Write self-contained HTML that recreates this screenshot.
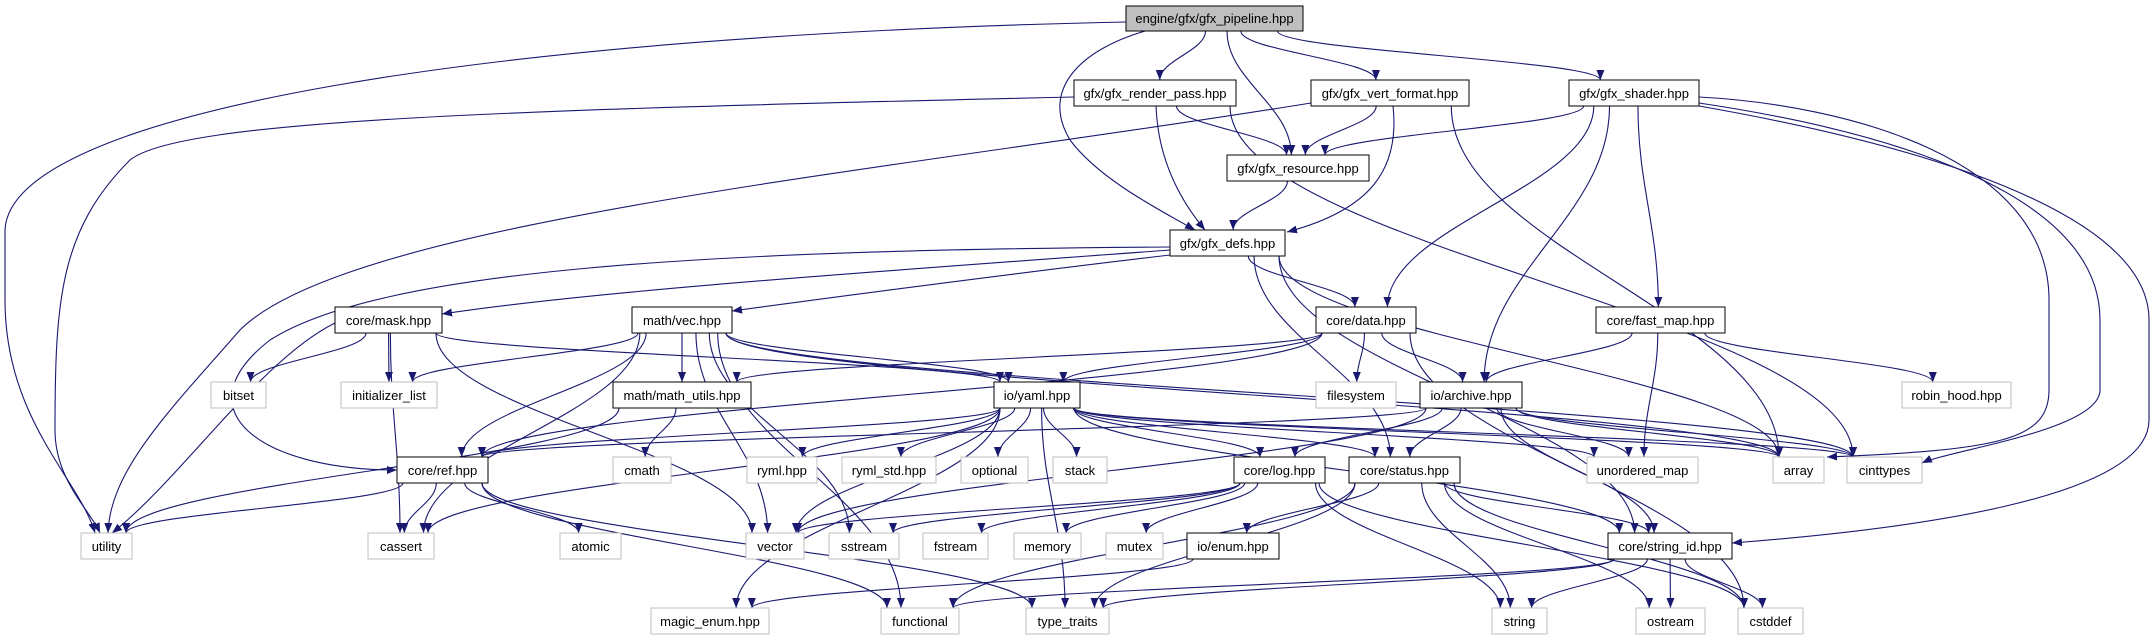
<!DOCTYPE html>
<html><head><meta charset="utf-8"><style>
html,body{margin:0;padding:0;background:#fff;}
svg{display:block;}
text{font-family:"Liberation Sans",sans-serif;font-size:13px;text-anchor:middle;}
</style></head><body>
<svg id="g" width="2156" height="635" viewBox="0 0 2156 635" xmlns="http://www.w3.org/2000/svg">
<defs><marker id="a" markerUnits="userSpaceOnUse" markerWidth="11" markerHeight="9" refX="10" refY="4" orient="auto"><path d="M0,0 L10,4 L0,8 z" fill="#191970"/></marker></defs>
<g id="edges" fill="none" stroke="#191970" stroke-width="1.1"></g>
<g id="nodes">
<rect x="1126" y="6" width="177" height="25" fill="#bfbfbf" stroke="#000"/><text x="1214.5" y="23">engine/gfx/gfx_pipeline.hpp</text>
<rect x="1074" y="80" width="162" height="26" fill="#fff" stroke="#000"/><text x="1155" y="98">gfx/gfx_render_pass.hpp</text>
<rect x="1311" y="80" width="158" height="26" fill="#fff" stroke="#000"/><text x="1390" y="98">gfx/gfx_vert_format.hpp</text>
<rect x="1569" y="80" width="130" height="26" fill="#fff" stroke="#000"/><text x="1634" y="98">gfx/gfx_shader.hpp</text>
<rect x="1227" y="155" width="142" height="26" fill="#fff" stroke="#000"/><text x="1298" y="173">gfx/gfx_resource.hpp</text>
<rect x="1170" y="230" width="115" height="26" fill="#fff" stroke="#000"/><text x="1227.5" y="248">gfx/gfx_defs.hpp</text>
<rect x="335" y="307" width="107" height="26" fill="#fff" stroke="#000"/><text x="388.5" y="325">core/mask.hpp</text>
<rect x="632" y="307" width="100" height="26" fill="#fff" stroke="#000"/><text x="682" y="325">math/vec.hpp</text>
<rect x="1316" y="307" width="100" height="26" fill="#fff" stroke="#000"/><text x="1366" y="325">core/data.hpp</text>
<rect x="1596" y="307" width="129" height="26" fill="#fff" stroke="#000"/><text x="1660.5" y="325">core/fast_map.hpp</text>
<rect x="211" y="382" width="55" height="26" fill="#fff" stroke="#bfbfbf"/><text x="238.5" y="400">bitset</text>
<rect x="341" y="382" width="96" height="26" fill="#fff" stroke="#bfbfbf"/><text x="389" y="400">initializer_list</text>
<rect x="613" y="382" width="138" height="26" fill="#fff" stroke="#000"/><text x="682" y="400">math/math_utils.hpp</text>
<rect x="994" y="382" width="86" height="26" fill="#fff" stroke="#000"/><text x="1037" y="400">io/yaml.hpp</text>
<rect x="1316" y="382" width="80" height="26" fill="#fff" stroke="#bfbfbf"/><text x="1356" y="400">filesystem</text>
<rect x="1420" y="382" width="102" height="26" fill="#fff" stroke="#000"/><text x="1471" y="400">io/archive.hpp</text>
<rect x="1902" y="382" width="109" height="26" fill="#fff" stroke="#bfbfbf"/><text x="1956.5" y="400">robin_hood.hpp</text>
<rect x="397" y="457" width="91" height="26" fill="#fff" stroke="#000"/><text x="442.5" y="475">core/ref.hpp</text>
<rect x="613" y="457" width="58" height="26" fill="#fff" stroke="#bfbfbf"/><text x="642" y="475">cmath</text>
<rect x="747" y="457" width="70" height="26" fill="#fff" stroke="#bfbfbf"/><text x="782" y="475">ryml.hpp</text>
<rect x="842" y="457" width="94" height="26" fill="#fff" stroke="#bfbfbf"/><text x="889" y="475">ryml_std.hpp</text>
<rect x="961" y="457" width="67" height="26" fill="#fff" stroke="#bfbfbf"/><text x="994.5" y="475">optional</text>
<rect x="1053" y="457" width="54" height="26" fill="#fff" stroke="#bfbfbf"/><text x="1080" y="475">stack</text>
<rect x="1234" y="457" width="91" height="26" fill="#fff" stroke="#000"/><text x="1279.5" y="475">core/log.hpp</text>
<rect x="1349" y="457" width="111" height="26" fill="#fff" stroke="#000"/><text x="1404.5" y="475">core/status.hpp</text>
<rect x="1587" y="457" width="111" height="26" fill="#fff" stroke="#bfbfbf"/><text x="1642.5" y="475">unordered_map</text>
<rect x="1773" y="457" width="51" height="26" fill="#fff" stroke="#bfbfbf"/><text x="1798.5" y="475">array</text>
<rect x="1847" y="457" width="75" height="26" fill="#fff" stroke="#bfbfbf"/><text x="1884.5" y="475">cinttypes</text>
<rect x="81" y="533" width="51" height="26" fill="#fff" stroke="#bfbfbf"/><text x="106.5" y="551">utility</text>
<rect x="368" y="533" width="66" height="26" fill="#fff" stroke="#bfbfbf"/><text x="401" y="551">cassert</text>
<rect x="560" y="533" width="61" height="26" fill="#fff" stroke="#bfbfbf"/><text x="590.5" y="551">atomic</text>
<rect x="746" y="533" width="58" height="26" fill="#fff" stroke="#bfbfbf"/><text x="775" y="551">vector</text>
<rect x="829" y="533" width="70" height="26" fill="#fff" stroke="#bfbfbf"/><text x="864" y="551">sstream</text>
<rect x="923" y="533" width="65" height="26" fill="#fff" stroke="#bfbfbf"/><text x="955.5" y="551">fstream</text>
<rect x="1014" y="533" width="67" height="26" fill="#fff" stroke="#bfbfbf"/><text x="1047.5" y="551">memory</text>
<rect x="1106" y="533" width="57" height="26" fill="#fff" stroke="#bfbfbf"/><text x="1134.5" y="551">mutex</text>
<rect x="1187" y="533" width="92" height="26" fill="#fff" stroke="#000"/><text x="1233" y="551">io/enum.hpp</text>
<rect x="1608" y="533" width="124" height="26" fill="#fff" stroke="#000"/><text x="1670" y="551">core/string_id.hpp</text>
<rect x="651" y="608" width="118" height="26" fill="#fff" stroke="#bfbfbf"/><text x="710" y="626">magic_enum.hpp</text>
<rect x="881" y="608" width="78" height="26" fill="#fff" stroke="#bfbfbf"/><text x="920" y="626">functional</text>
<rect x="1026" y="608" width="83" height="26" fill="#fff" stroke="#bfbfbf"/><text x="1067.5" y="626">type_traits</text>
<rect x="1492" y="608" width="55" height="26" fill="#fff" stroke="#bfbfbf"/><text x="1519.5" y="626">string</text>
<rect x="1636" y="608" width="69" height="26" fill="#fff" stroke="#bfbfbf"/><text x="1670.5" y="626">ostream</text>
<rect x="1738" y="608" width="65" height="26" fill="#fff" stroke="#bfbfbf"/><text x="1770.5" y="626">cstddef</text>
</g>
</svg>
<script>
var N={};
var rects=document.querySelectorAll('#nodes rect'),texts=document.querySelectorAll('#nodes text');
for(var i=0;i<rects.length;i++){var r=rects[i];N[texts[i].textContent]={x:+r.getAttribute('x'),y:+r.getAttribute('y'),w:+r.getAttribute('width'),h:+r.getAttribute('height')};}
var E=[
["gfx/gfx_render_pass.hpp",["gfx/gfx_resource.hpp","cinttypes"]],
["engine/gfx/gfx_pipeline.hpp",["gfx/gfx_render_pass.hpp","gfx/gfx_vert_format.hpp","gfx/gfx_shader.hpp","gfx/gfx_resource.hpp"]],
["gfx/gfx_vert_format.hpp",["gfx/gfx_resource.hpp","array"]],
["gfx/gfx_shader.hpp",["gfx/gfx_resource.hpp","core/data.hpp","io/archive.hpp","core/fast_map.hpp"]],
["gfx/gfx_resource.hpp",["gfx/gfx_defs.hpp"]],
["gfx/gfx_defs.hpp",["core/data.hpp","core/string_id.hpp","core/status.hpp","array"]],
["core/mask.hpp",["bitset","initializer_list","io/yaml.hpp","cassert","vector"]],
["math/vec.hpp",["initializer_list","math/math_utils.hpp","io/yaml.hpp","core/ref.hpp","cassert","vector","sstream","functional","array","cinttypes"]],
["core/data.hpp",["math/math_utils.hpp","io/yaml.hpp","core/ref.hpp","filesystem","io/archive.hpp","cstddef"]],
["core/fast_map.hpp",["io/archive.hpp","unordered_map","robin_hood.hpp"]],
["math/math_utils.hpp",["cmath","utility"]],
["io/yaml.hpp",["core/ref.hpp","ryml.hpp","ryml_std.hpp","optional","stack","core/log.hpp","core/status.hpp","unordered_map","array","cinttypes","vector","type_traits","cassert","core/string_id.hpp","magic_enum.hpp"]],
["io/archive.hpp",["core/ref.hpp","core/log.hpp","core/status.hpp","unordered_map","array","cinttypes","core/string_id.hpp","vector"]],
["core/ref.hpp",["utility","cassert","atomic","functional","type_traits"]],
["core/log.hpp",["vector","sstream","fstream","memory","mutex","string","cstddef"]],
["core/status.hpp",["io/enum.hpp","core/string_id.hpp","string","ostream","cstddef","functional","type_traits"]],
["io/enum.hpp",["magic_enum.hpp"]],
["core/string_id.hpp",["string","ostream","cstddef","functional","type_traits"]]
];
var g=document.getElementById('edges'),ns='http://www.w3.org/2000/svg';
function add(d){var p=document.createElementNS(ns,'path');p.setAttribute('d',d);p.setAttribute('marker-end','url(#a)');g.appendChild(p);}
function cl(v,a,b){return Math.max(a,Math.min(b,v));}
E.forEach(function(e){var s=N[e[0]];e[1].forEach(function(t){var T=N[t];
 var scx=s.x+s.w/2,tcx=T.x+T.w/2;
 var sx=cl(scx+(tcx-scx)*0.15,s.x+6,s.x+s.w-6),sy=s.y+s.h;
 var tx=cl(tcx+(scx-tcx)*0.08,T.x+6,T.x+T.w-6),ty=T.y;
 add('M'+sx+','+sy+' C'+sx+','+(sy+(ty-sy)*0.4)+' '+tx+','+(ty-(ty-sy)*0.4)+' '+tx+','+ty);});});
add('M1126,22 C500,35 10,110 5,230 L5,300 C5,420 80,480 95,533');
add('M1074,97 C500,110 180,120 130,160 C60,230 55,300 55,430 C55,480 90,510 100,533');
add('M1311,103 C900,170 350,220 240,330 C170,410 110,470 108,533');
add('M1170,247 C700,250 380,270 270,340 C180,410 260,470 397,470');
add('M1170,250 C900,270 600,290 442,314');
add('M1170,255 C1000,275 850,295 732,311');
add('M335,323 C260,360 180,480 112,533');
add('M1145,31 C1080,50 1040,90 1070,140 C1100,180 1160,210 1195,230');
add('M1156,106 C1158,160 1180,200 1205,230');
add('M1393,106 C1400,170 1370,210 1287,232');
add('M1699,97 C1850,105 2049,160 2049,300 L2049,390 C2049,440 2000,450 1827,457');
add('M1699,103 C1880,130 2100,190 2100,320 L2100,390 C2100,430 1950,450 1922,463');
add('M1699,106 C1950,150 2149,220 2149,320 L2149,420 C2149,500 1900,530 1732,543');
</script>
</body></html>
